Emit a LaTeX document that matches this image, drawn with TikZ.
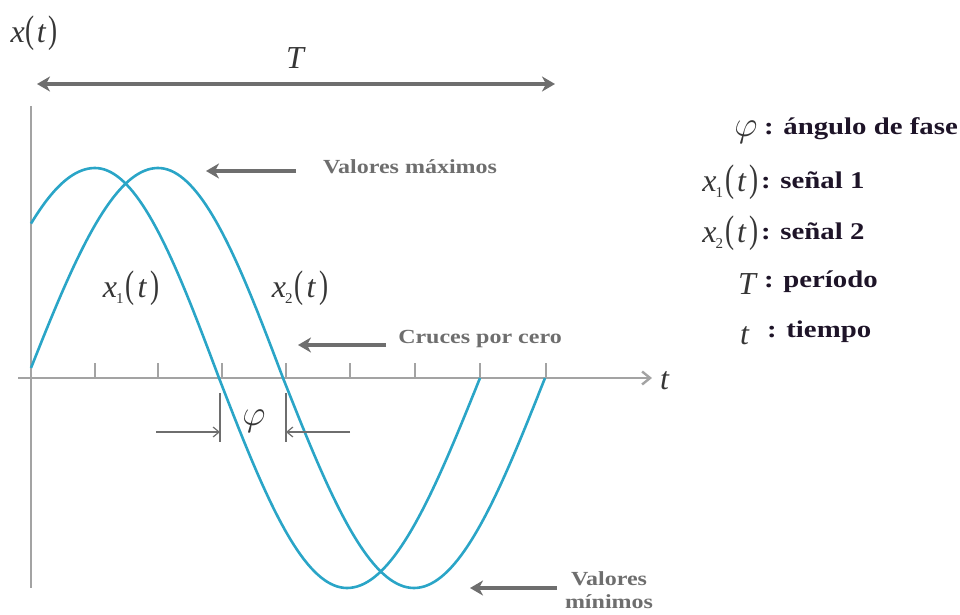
\documentclass[tikz,border=0pt]{standalone}
\usepackage{fontspec}
\usepackage{graphicx}
\setmainfont{Liberation Serif}
\newfontfamily\lblfont[FakeStretch=1.2]{Liberation Serif}
\usetikzlibrary{arrows.meta}
\definecolor{wave}{HTML}{2AA5C7}
\definecolor{arrgray}{HTML}{6E6E6E}
\definecolor{axgray}{HTML}{A3A3A3}
\definecolor{legtext}{HTML}{1E1428}
\definecolor{symgray}{HTML}{363636}
\newcommand\parL{\scalebox{0.85}[1.2]{(}}
\newcommand\parR{\scalebox{0.85}[1.2]{)}}
\newcommand\sigx[1]{\textit{x}\kern-1pt\raisebox{-0.4ex}{\fontsize{15}{15}\selectfont #1}\kern2pt\parL\kern3pt\textit{t}\kern3pt\parR}
\newcommand\bigphi{\scalebox{1.45}{$\varphi$}}
\begin{document}
\begin{tikzpicture}[x=1pt,y=-1pt,
  wavestyle/.style={wave, line width=2.6pt},
  axisline/.style={axgray, line width=2.4pt},
  tickline/.style={axgray, line width=2pt},
  fatarrow/.style={arrgray, line width=3.5pt, -{Stealth[length=13pt,width=15pt,inset=4pt]}},
  fatboth/.style={arrgray, line width=3.5pt, {Stealth[length=13pt,width=15pt,inset=4pt]}-{Stealth[length=13pt,width=15pt,inset=4pt]}},
  thinarrow/.style={arrgray, line width=1.2pt, -{Straight Barb[length=6pt,width=10pt]}},
  philine/.style={arrgray, line width=1.6pt},
  graylbl/.style={text=arrgray, font=\lblfont\bfseries\fontsize{20}{23}\selectfont, inner sep=0pt},
  legtxt/.style={text=legtext, font=\lblfont\bfseries\fontsize{24}{26}\selectfont, anchor=west, inner sep=0pt},
  mathlbl/.style={text=symgray, font=\fontsize{32}{34}\selectfont, inner sep=0pt},
  philbl/.style={text=symgray, font=\fontsize{24}{26}\selectfont, inner sep=0pt}
]
\useasboundingbox (0,0) rectangle (960,615);

% axes
\coordinate (axL) at (18,378);
\coordinate (axR) at (652,378);
\coordinate (ayT) at (31,106);
\coordinate (ayB) at (31,588);
\draw[axisline] (ayT) -- (ayB);
\draw[axisline, -{Straight Barb[length=8pt,width=13pt]}] (axL) -- (axR);
\foreach \tx in {95,158,222,286,350,415,480,546}
  \draw[tickline] (\tx,378) -- (\tx,363);

% waves (quarter by quarter)
\draw[wavestyle]
  plot[domain=31:95, samples=30] (\x, {378-210*sin(90*(\x+40)/135)})
  -- plot[domain=95:219, samples=40] (\x, {378-210*sin(90+90*(\x-95)/124)})
  -- plot[domain=219:347, samples=40] (\x, {378-210*sin(180+90*(\x-219)/128)})
  -- plot[domain=347:480, samples=40] (\x, {378-210*sin(270+90*(\x-347)/133)});
\draw[wavestyle]
  plot[domain=31:158, samples=40] (\x, {378-210*sin(90*(\x-27)/131)})
  -- plot[domain=158:283, samples=40] (\x, {378-210*sin(90+90*(\x-158)/125)})
  -- plot[domain=283:414, samples=40] (\x, {378-210*sin(180+90*(\x-283)/131)})
  -- plot[domain=414:545, samples=40] (\x, {378-210*sin(270+90*(\x-414)/131)});

% labels on axes
\node[mathlbl] (xt) at (34,33) {\textit{x}\kern1pt\parL\kern2pt\textit{t}\kern2pt\parR};
\node[mathlbl] (tax) at (665,381) {\textit{t}};
\node[mathlbl] (Tlab) at (296,58) {\textit{T}};
\node[mathlbl] (x1lab) at (131,288) {\sigx{1}};
\node[mathlbl] (x2lab) at (300,288) {\sigx{2}};

% period arrow
\coordinate (TL) at (37,84);
\coordinate (TR) at (555,84);
\draw[fatboth] (TL) -- (TR);

% annotations
\node[graylbl] (vmax) at (410,167) {Valores máximos};
\coordinate (vmaxS) at (296,171);
\coordinate (vmaxE) at (206,171);
\draw[fatarrow] (vmaxS) -- (vmaxE);

\node[graylbl] (cruces) at (480,339) {Cruces por cero};
\coordinate (crS) at (386,345);
\coordinate (crE) at (298,345);
\draw[fatarrow] (crS) -- (crE);

\node[graylbl, align=center] (vmin) at (609,590) {Valores\\mínimos};
\coordinate (vminS) at (557,588);
\coordinate (vminE) at (470,588);
\draw[fatarrow] (vminS) -- (vminE);

% phase
\coordinate (p1T) at (220,393);
\coordinate (p1B) at (220,442);
\coordinate (p2T) at (286,393);
\coordinate (p2B) at (286,442);
\draw[philine] (p1T) -- (p1B);
\draw[philine] (p2T) -- (p2B);
\coordinate (pa1S) at (156,432);
\coordinate (pa1E) at (220,432);
\coordinate (pa2S) at (350,432);
\coordinate (pa2E) at (286,432);
\draw[thinarrow] (pa1S) -- (pa1E);
\draw[thinarrow] (pa2S) -- (pa2E);
\node[philbl] (phi) at (254,421) {\bigphi};

% legend
\node[philbl] (l1s) at (746,132) {\bigphi};
\node[legtxt] (l1t) at (764,129) {: ángulo de fase};
\node[mathlbl, anchor=east] (l2s) at (759,182) {\sigx{1}};
\node[legtxt] (l2t) at (761,180) {: señal 1};
\node[mathlbl, anchor=east] (l3s) at (759,233) {\sigx{2}};
\node[legtxt] (l3t) at (761,231) {: señal 2};
\node[mathlbl] (l4s) at (748,284) {\textit{T}};
\node[legtxt] (l4t) at (764,282) {: período};
\node[mathlbl] (l5s) at (745,336) {\textit{t}};
\node[legtxt] (l5t) at (767,332) {: tiempo};
\end{tikzpicture}
\end{document}
